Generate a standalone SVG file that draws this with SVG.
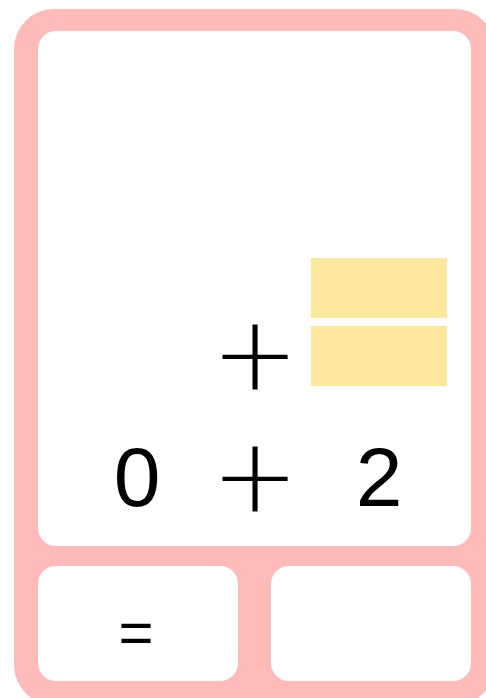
<svg xmlns="http://www.w3.org/2000/svg" width="486" height="698" viewBox="0 0 486 698">
<style>
.panel{fill:#ffffff}
.block{fill:#fde99d}
.num{font-family:"Liberation Sans",Arial,sans-serif;font-size:84px;fill:#000;text-anchor:middle}
.op{font-family:"DejaVu Sans",sans-serif;font-weight:200;font-size:104px;fill:#000;text-anchor:middle}
.eq{font-family:"Liberation Sans",Arial,sans-serif;font-size:60px;fill:#000;text-anchor:middle}
</style>
<rect x="0" y="0" width="486" height="698" fill="#ffffff"/>
<g id="frame">
<rect x="14" y="9" width="481" height="696" rx="40" ry="40" fill="#ffbaba"/>
</g>
<g id="workspace">
<rect class="panel" x="38" y="31" width="433" height="515" rx="18" ry="18"/>
</g>
<g id="block-top">
<rect class="block" x="311" y="258" width="136" height="60"/>
</g>
<g id="block-bottom">
<rect class="block" x="311" y="326" width="136" height="60"/>
</g>
<g id="plus-top">
<text class="op" x="255" y="389">+</text>
</g>
<g id="equation">
<text class="num" x="137" y="506">0</text>
<text class="op" x="255" y="511">+</text>
<text class="num" x="379" y="506">2</text>
</g>
<g id="equals-box">
<rect class="panel" x="38" y="566" width="200" height="115" rx="18" ry="18"/>
<text class="eq" x="136" y="653">=</text>
</g>
<g id="answer-box">
<rect class="panel" x="271" y="566" width="200" height="115" rx="18" ry="18"/>
</g>
<g id="connectors"></g>
</svg>
